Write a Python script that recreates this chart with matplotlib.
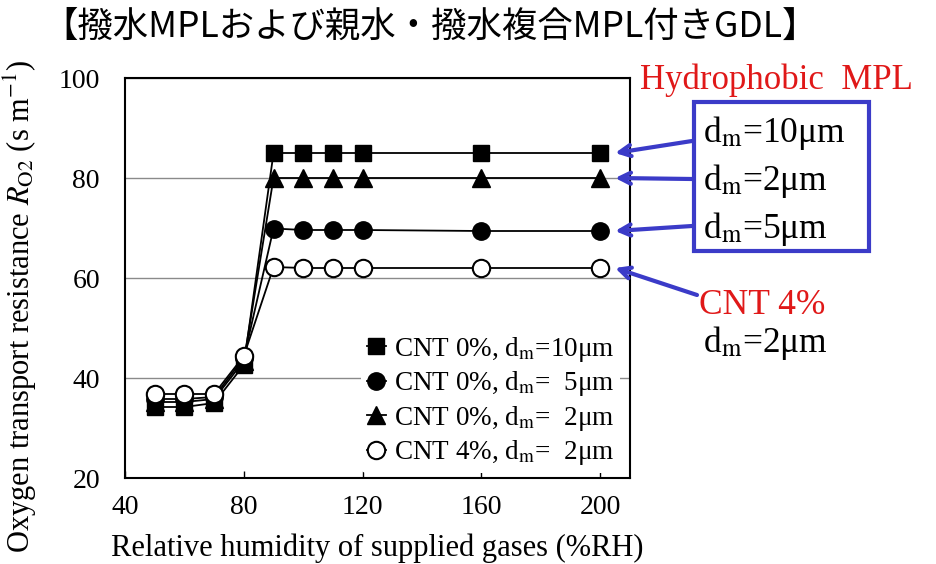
import matplotlib
matplotlib.use('Agg')
import matplotlib.pyplot as plt
from matplotlib.patches import Rectangle

# 値は図から読み取り
rh = [50, 60, 70, 80, 90, 100, 110, 120, 160, 200]
r_10um = [34.2, 34.2, 35.0, 42.6, 85.0, 85.0, 85.0, 85.0, 85.0, 85.0]
r_5um = [35.8, 35.8, 36.2, 44.0, 69.9, 69.6, 69.6, 69.6, 69.4, 69.4]
r_2um = [35.2, 35.2, 35.8, 43.4, 80.0, 80.0, 80.0, 80.0, 80.0, 80.0]
r_cnt4 = [36.8, 36.8, 36.8, 44.4, 62.2, 62.0, 62.0, 62.0, 62.0, 62.0]

labels = ['CNT 0%, d$_{\\mathrm{m}}$=10μm',
          'CNT 0%, d$_{\\mathrm{m}}$=  5μm',
          'CNT 0%, d$_{\\mathrm{m}}$=  2μm',
          'CNT 4%, d$_{\\mathrm{m}}$=  2μm']

title = '【撥水MPLおよび親水・撥水複合MPL付きGDL】'

plt.rcParams['font.family'] = ['Liberation Serif', 'DejaVu Serif']
plt.rcParams['mathtext.fontset'] = 'stix'

W, H = 937, 564
fig = plt.figure(figsize=(W / 100, H / 100), dpi=100)
ax = fig.add_axes([125 / W, 1 - 478 / H, 505 / W, 400 / H])


def fp(x, y):
    # ピクセル座標 -> figure fraction
    return (x / W, 1 - y / H)


ax.plot(rh, r_10um, 's-', color='black', ms=11, lw=1.3, label=labels[0])
ax.plot(rh, r_5um, 'o-', color='black', ms=12.5, lw=1.3, label=labels[1])
ax.plot(rh, r_2um, '^-', color='black', ms=12.5, lw=1.3, label=labels[2])
ax.plot(rh, r_cnt4, 'o-', color='black', mfc='white', mew=1.5, ms=12.5, lw=1.3,
        label=labels[3])

ax.set_xlim(40, 210)
ax.set_ylim(20, 100)
ax.set_xticks([40, 80, 120, 160, 200])
ax.set_yticks([20, 40, 60, 80, 100])
ax.yaxis.grid(True, color='#8a8a8a', lw=1.0)
ax.set_axisbelow(True)
ax.tick_params(axis='x', direction='in', length=5, width=1, pad=12, labelsize=20)
ax.tick_params(axis='y', length=0, pad=18, labelsize=20)
for s in ax.spines.values():
    s.set_linewidth(1.5)

ax.set_xlabel('Relative humidity of supplied gases (%RH)', fontsize=22, labelpad=10)
ax.set_ylabel('Oxygen transport resistance $R_{\\mathrm{O2}}$ (s m$^{-1}$)', fontsize=22)
ax.yaxis.set_label_coords(-0.17, 0.43)

leg = ax.legend(loc='lower right', bbox_to_anchor=(0.99, 0.0), fontsize=19.5,
                frameon=True, facecolor='white', edgecolor='none', framealpha=1,
                handlelength=0.7, handletextpad=0.3, labelspacing=0.2,
                borderpad=0.2, borderaxespad=0.2)

fig.text(*fp(42, 27), title, family=['Noto Sans CJK JP', 'DejaVu Sans'],
         fontsize=25.5, va='center', ha='left')

blue = '#3b3bc8'
red = '#e01818'
fig.text(*fp(640, 89), 'Hydrophobic  MPL', color=red, fontsize=25, va='baseline')
fig.patches.append(Rectangle(fp(694, 251), 175 / W, 149 / H, transform=fig.transFigure,
                             fill=False, edgecolor=blue, lw=3))
fig.text(*fp(703, 142), 'd$_{\\mathrm{m}}$=10μm', fontsize=25.5, va='baseline')
fig.text(*fp(703, 190), 'd$_{\\mathrm{m}}$=2μm', fontsize=25.5, va='baseline')
fig.text(*fp(703, 238), 'd$_{\\mathrm{m}}$=5μm', fontsize=25.5, va='baseline')
fig.text(*fp(699, 314), 'CNT 4%', color=red, fontsize=25.5, va='baseline')
fig.text(*fp(703, 352), 'd$_{\\mathrm{m}}$=2μm', fontsize=25.5, va='baseline')

arrow = dict(arrowstyle='->,head_length=0.8,head_width=0.4', color=blue, lw=3,
             shrinkA=0, shrinkB=0)
for series, start in [(r_10um, (692, 141)), (r_2um, (692, 179)),
                      (r_5um, (692, 226)), (r_cnt4, (697, 295))]:
    ax.annotate('', xy=(205, series[-1]), xycoords='data',
                xytext=fp(*start), textcoords='figure fraction',
                arrowprops=arrow, annotation_clip=False)

fig.savefig('out.png', dpi=100)
